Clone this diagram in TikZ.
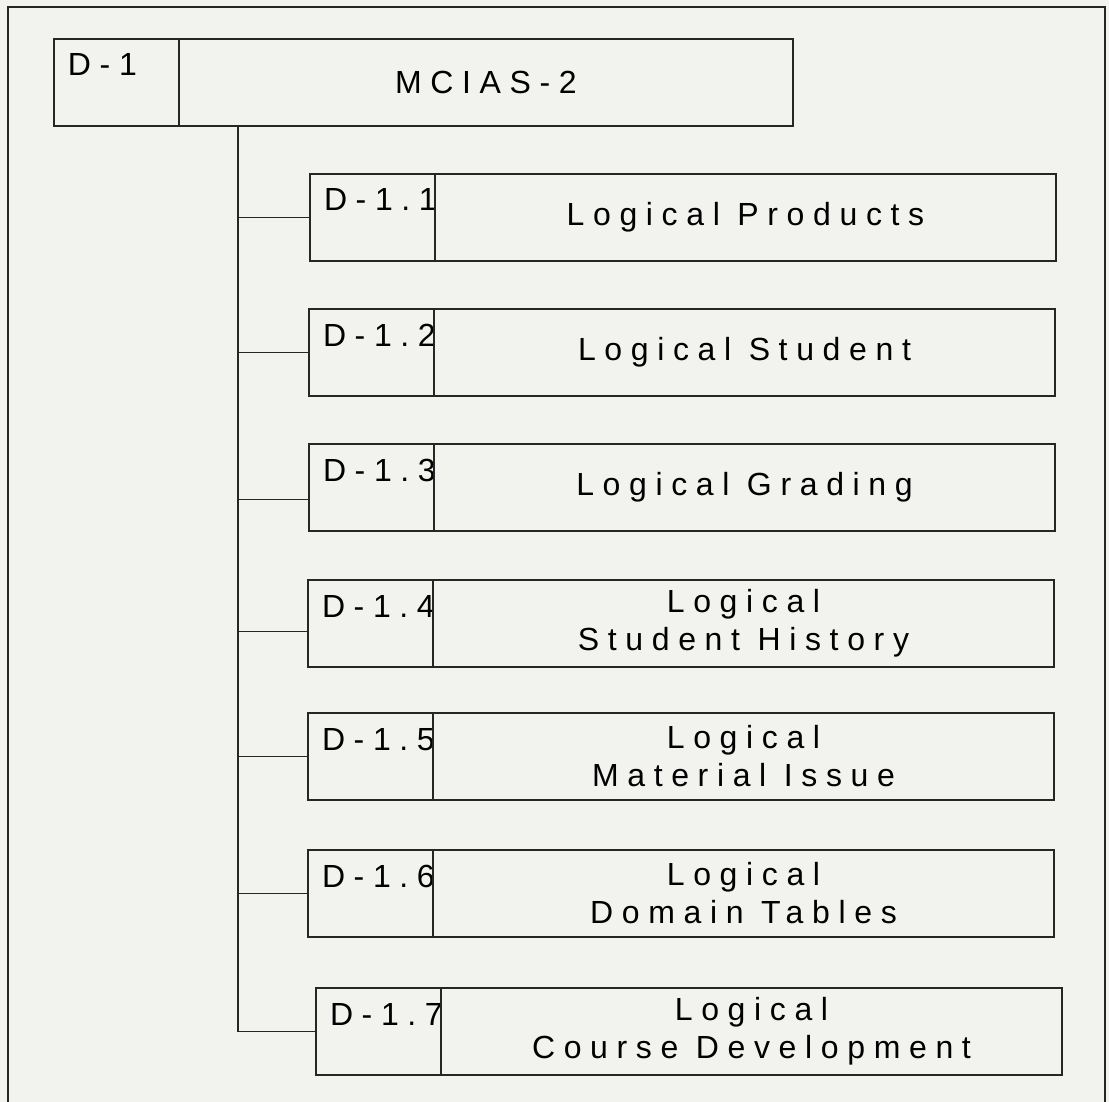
\documentclass[tikz,border=0pt]{standalone}
\usepackage{fontspec}
\setmainfont{Liberation Sans}
\newfontfamily\boxfont{Liberation Sans}[LetterSpace=27]
\usetikzlibrary{positioning}
\definecolor{paper}{RGB}{242,242,238}
\definecolor{ink}{RGB}{38,38,38}

\begin{document}
\begin{tikzpicture}[x=0.5pt, y=-0.5pt,
  idcell/.style={draw=ink, line width=0.9pt, outer sep=0pt, inner xsep=7pt, inner ysep=7pt, text width=48.5pt, align=left, text height=11.5pt, text depth=18pt, font=\boxfont\fontsize{16pt}{19pt}\selectfont, execute at begin node={\exhyphenpenalty=10000\relax}},
  titlecell/.style={draw=ink, line width=0.9pt, outer sep=0pt, minimum width=310.5pt, minimum height=43.5pt, align=center, font=\boxfont\fontsize{16pt}{19pt}\selectfont},
  link/.style={draw=ink, line width=0.9pt}
]
\useasboundingbox[fill=paper] (0,0) rectangle (1109,1102);

% Frame
\draw[link] (8,1102) |- (1105,7) -- (1105,1102);

% Top box
\node[idcell, anchor=north west] (d1) at (54,39) {D-1};
\node[titlecell, minimum width=307pt, right=0pt of d1] (mcias) {MCIAS-2};

% Children
\node[idcell, anchor=north west] (d11) at (310,174) {D-1.1};
\node[titlecell, right=0pt of d11] (products) {Logical Products};

\node[idcell, anchor=north west] (d12) at (309,309) {D-1.2};
\node[titlecell, right=0pt of d12] (student) {Logical Student};

\node[idcell, anchor=north west] (d13) at (309,444) {D-1.3};
\node[titlecell, right=0pt of d13] (grading) {Logical Grading};

\node[idcell, anchor=north west] (d14) at (308,580) {D-1.4};
\node[titlecell, right=0pt of d14] (history) {Logical\\Student History};

\node[idcell, anchor=north west] (d15) at (308,713) {D-1.5};
\node[titlecell, right=0pt of d15] (material) {Logical\\Material Issue};

\node[idcell, anchor=north west] (d16) at (308,850) {D-1.6};
\node[titlecell, right=0pt of d16] (domain) {Logical\\Domain Tables};

\node[idcell, anchor=north west] (d17) at (316,988) {D-1.7};
\node[titlecell, right=0pt of d17] (course) {Logical\\Course Development};

% Tree lines
\coordinate (trunk) at (mcias.south west -| 238,0);
\draw[link] (trunk) |- (d17.west);
\foreach \n/\dy in {d11/0,d12/0,d13/-6,d14/-4,d15/0,d16/0}
  \draw[link] ([yshift=\dy pt]\n.west) coordinate (tip) -- (trunk |- tip);

\end{tikzpicture}
\end{document}
